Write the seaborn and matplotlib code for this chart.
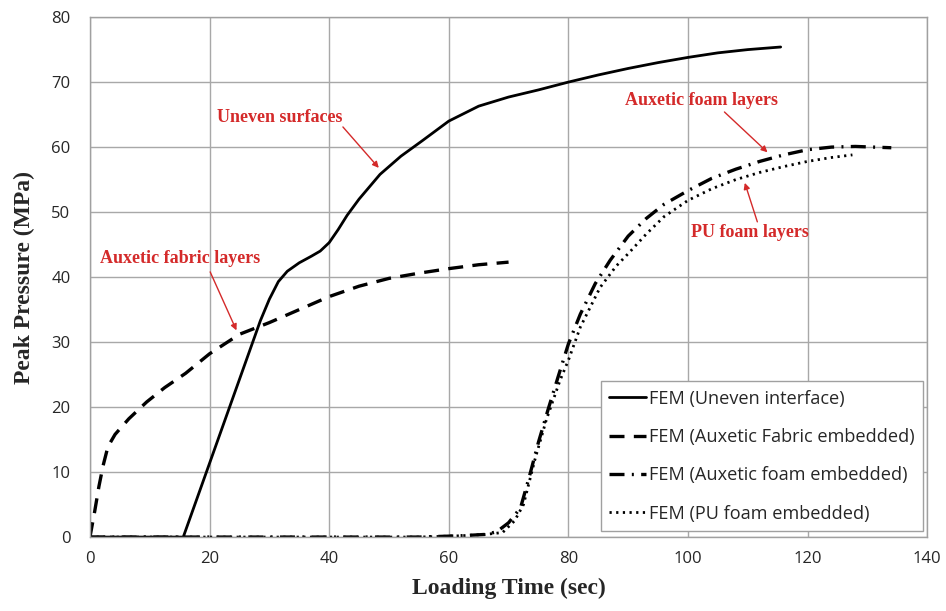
import matplotlib
matplotlib.use("Agg")
import matplotlib.pyplot as plt
import pandas as pd
import seaborn as sns
from matplotlib.ticker import MultipleLocator

# Data
uneven_t = [0, 15.6, 28.5, 30.0, 31.5, 33.0, 35.0, 37.0, 38.5, 40.0, 41.5, 43.0,
            45.0, 48.5, 52.0, 55.6, 60.0, 65.0, 70.0, 75.0, 80.0, 85.0, 90.0,
            95.0, 100.0, 105.0, 110.0, 115.5]
uneven_p = [0, 0, 33.3, 36.6, 39.3, 40.9, 42.2, 43.2, 44.0, 45.3, 47.3, 49.5,
            52.0, 55.8, 58.6, 61.0, 64.0, 66.3, 67.7, 68.8, 70.0, 71.1, 72.1,
            73.0, 73.8, 74.5, 75.0, 75.4]

fabric_t = [0, 0.3, 0.8, 1.5, 2.2, 3.0, 4.2, 6.5, 9.5, 12.5, 16.0, 20.0, 25.0,
            30.0, 35.0, 40.0, 45.0, 50.0, 55.0, 60.0, 65.0, 70.0]
fabric_p = [0, 1.5, 4.0, 7.8, 11.0, 13.9, 15.8, 18.2, 20.8, 23.0, 25.2, 28.2,
            31.2, 33.0, 35.0, 37.0, 38.6, 39.8, 40.6, 41.3, 41.9, 42.3]

auxfoam_t = [0, 20, 40, 55, 62, 66, 68, 70, 72, 73.5, 75, 76.6, 78.3, 80, 82,
             84.5, 87, 90, 93, 96, 100, 104, 108, 112, 116, 120, 124, 128, 134]
auxfoam_p = [0, 0, 0, 0, 0.2, 0.4, 0.8, 2.2, 4.5, 9.4, 14.6, 19.6, 24.7, 29.7,
             34.3, 39.0, 42.6, 46.3, 49.0, 51.2, 53.3, 55.2, 56.6, 57.8, 58.8,
             59.6, 60.0, 60.1, 59.9]

pu_t = [0, 20, 40, 55, 62, 66, 69, 71, 72.5, 74.4, 76.3, 78.6, 80, 82, 85.3,
        88, 90, 93, 96, 100, 104, 108, 112, 116, 120, 124, 127.5]
pu_p = [0, 0, 0, 0, 0.2, 0.4, 0.7, 2.5, 5.0, 11.9, 18.0, 24.1, 27.2, 32.3,
        38.4, 41.7, 43.6, 46.6, 49.3, 51.8, 53.6, 55.0, 56.1, 57.0, 57.8,
        58.4, 58.8]

labels = ["FEM (Uneven interface)", "FEM (Auxetic Fabric embedded)",
          "FEM (Auxetic foam embedded)", "FEM (PU foam embedded)"]

sns.set_style("white")
plt.rcParams['font.family'] = ['Open Sans', 'DejaVu Sans']

fig = plt.figure(figsize=(9.46, 6.11), dpi=100)
ax = fig.add_axes([0.0951, 0.121, 0.885, 0.851])

series = [
    (uneven_t, uneven_p, labels[0], dict(linestyle="-", linewidth=2.0)),
    (fabric_t, fabric_p, labels[1], dict(linestyle=(0, (4.5, 2.8)), linewidth=2.4)),
    (auxfoam_t, auxfoam_p, labels[2], dict(linestyle=(0, (4.5, 2.2, 0.6, 2.2)), linewidth=2.4)),
    (pu_t, pu_p, labels[3], dict(linestyle=(0, (0.8, 1.6)), linewidth=2.0)),
]
for t, p, lab, kw in series:
    df = pd.DataFrame({"t": t, "p": p})
    sns.lineplot(data=df, x="t", y="p", ax=ax, color="black", label=lab,
                 sort=False, estimator=None, **kw)

ax.set_xlim(0, 140)
ax.set_ylim(0, 80)
ax.xaxis.set_major_locator(MultipleLocator(20))
ax.xaxis.set_minor_locator(MultipleLocator(4))
ax.yaxis.set_major_locator(MultipleLocator(10))
ax.yaxis.set_minor_locator(MultipleLocator(2))
ax.grid(True, which="major", color="#a8a8a8", linewidth=1.0)
ax.set_axisbelow(True)
for s in ax.spines.values():
    s.set_color("#a0a0a0")
    s.set_linewidth(1.0)
ax.tick_params(axis="both", which="major", length=0, labelsize=12,
               labelcolor="#262626")
ax.tick_params(axis="y", which="major", pad=14)
ax.tick_params(axis="x", which="major", pad=10)
ax.tick_params(axis="both", which="minor", direction="in", length=5,
               color="#a0a0a0", width=1.0)

ax.set_xlabel("Loading Time (sec)", family="Liberation Serif", weight="bold",
              fontsize=17, labelpad=8)
ax.set_ylabel("Peak Pressure (MPa)", family="Liberation Serif", weight="bold",
              fontsize=17, labelpad=12)

leg = ax.legend(loc="lower right", bbox_to_anchor=(0.995, 0.012),
                borderaxespad=0, fontsize=13.1, frameon=True, fancybox=False,
                edgecolor="#a0a0a0", framealpha=1, handlelength=2.0,
                handletextpad=0.2, labelspacing=1.12, borderpad=0.45)
leg.get_frame().set_linewidth(1.0)

red = "#d42a2a"
notes = [
    ("Uneven surfaces", (31.7, 64.6), (42.3, 63.1), (48.3, 56.8)),
    ("Auxetic fabric layers", (15.1, 42.9), (20.1, 40.8), (24.5, 31.8)),
    ("Auxetic foam layers", (102.2, 67.2), (106.1, 65.4), (113.3, 59.2)),
    ("PU foam layers", (110.4, 46.9), (111.6, 48.5), (109.5, 54.5)),
]
for txt, pos, tail, head in notes:
    ax.text(pos[0], pos[1], txt, color=red, family="Liberation Serif",
            weight="bold", fontsize=13, ha="center", va="center")
    ax.annotate("", xy=head, xytext=tail,
                arrowprops=dict(arrowstyle="-|>", color=red, lw=1.0,
                                mutation_scale=9, shrinkA=0, shrinkB=0))

fig.savefig("out.png", dpi=100)
